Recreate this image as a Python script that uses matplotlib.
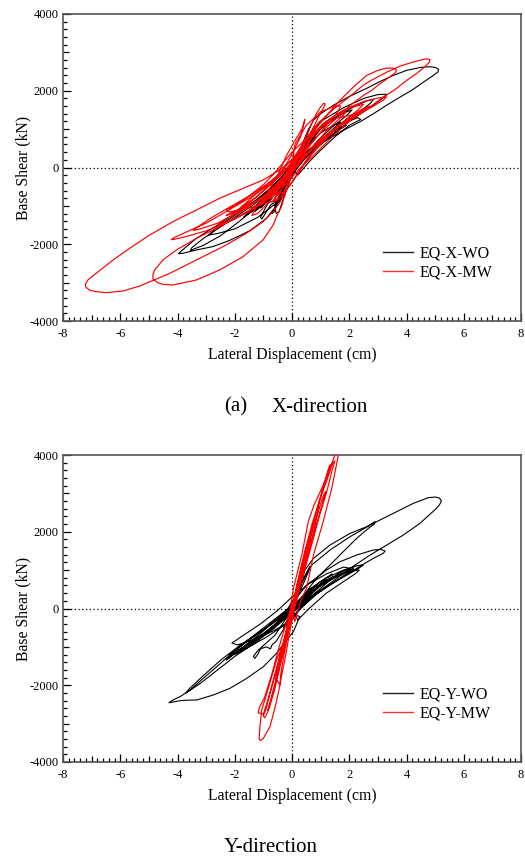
import matplotlib
matplotlib.use("Agg")
import matplotlib.pyplot as plt
from matplotlib.lines import Line2D
from matplotlib.ticker import MultipleLocator, FuncFormatter

plt.rcParams['font.family'] = ['Liberation Serif', 'DejaVu Serif']
plt.rcParams['axes.unicode_minus'] = False

# ---------------- data (displacement cm, base shear kN) ----------------
x_wo_path = [
    (0, 0), (0.25, 300), (0.5, 620), (0.7, 850), (0.55, 700), (0.2, 250), (-0.2, -250), (-0.45, -600),
    (-0.6, -800), (-0.45, -650), (-0.1, -200), (0.3, 300), (0.6, 700), (0.9, 1000), (1.1, 1150), (0.95, 980),
    (0.5, 500), (0.0, -50), (-0.5, -550), (-0.9, -900), (-1.1, -1050), (-0.95, -950), (-0.7, -800),
    (-0.85, -950), (-1.0, -1150), (-1.1, -1300), (-1.05, -1340), (-0.95, -1220), (-0.75, -980), (-0.55, -880),
    (-0.6, -1050), (-0.55, -1200), (-0.45, -1150), (-0.3, -800), (-0.05, -300), (0.3, 250),
    (0.6, 650), (1.0, 1000), (1.6, 1350), (2.2, 1600), (2.6, 1730), (2.85, 1780), (2.75, 1680), (2.3, 1420),
    (1.8, 1150), (1.2, 800), (0.6, 400), (0.1, -100), (-0.3, -550),
    (-0.55, -1000), (-0.9, -1330), (-1.48, -1650), (-2.18, -1900), (-2.76, -2060), (-3.34, -2150),
    (-3.81, -2235), (-3.97, -2245), (-3.9, -2200), (-3.69, -2063), (-3.34, -1846), (-2.88, -1629),
    (-2.41, -1411), (-1.83, -1108), (-1.25, -847), (-0.7, -500), (-0.25, -150), (0.1, 200),
    (0.4, 550), (0.65, 880), (0.5, 750), (0.1, 250), (-0.4, -350),
    (-1.2, -1000), (-1.8, -1380), (-2.5, -1780), (-3.1, -2030), (-3.55, -2160), (-3.5, -2090), (-3.1, -1850),
    (-2.6, -1600), (-2.0, -1300), (-1.4, -1000), (-0.8, -650), (-0.3, -250), (0.2, 250),
    (0.45, 750), (0.74, 1226), (1.0, 1400), (1.44, 1620), (2.0, 1850), (2.6, 2060), (3.1, 2250), (3.54, 2400),
    (4.0, 2530), (4.5, 2610), (4.8, 2625), (5.0, 2610), (5.12, 2560), (5.1, 2490), (4.9, 2380), (4.59, 2223),
    (4.2, 2020), (3.77, 1833), (3.3, 1620), (2.84, 1400), (2.4, 1200), (1.9, 1010), (1.4, 800), (0.97, 620),
    (0.6, 380), (0.27, 186), (0.05, -80), (-0.08, -334), (-0.25, -650), (-0.43, -854), (-0.6, -1000),
    (-0.5, -850), (-0.2, -350),
    (0.2, 250), (0.5, 750), (1.0, 1200), (1.8, 1560), (2.5, 1800), (3.0, 1900), (3.3, 1910), (3.2, 1820),
    (2.7, 1550), (2.0, 1200), (1.3, 800), (0.6, 350), (0.0, -150),
    (-0.5, -900), (-1.2, -1300), (-2.0, -1600), (-2.6, -1720), (-2.9, -1760), (-2.7, -1600), (-2.2, -1350),
    (-1.5, -1000), (-0.8, -600), (-0.2, -100),
    (0.3, 450), (0.8, 900), (1.4, 1250), (1.9, 1450), (2.1, 1500), (1.9, 1350), (1.4, 1050), (0.9, 700),
    (0.4, 280), (0.0, -150), (-0.5, -600), (-1.0, -950), (-1.5, -1200), (-1.7, -1300), (-1.5, -1150),
    (-1.0, -800), (-0.5, -400), (0.0, 50), (0.5, 550), (1.0, 900), (1.5, 1120), (1.7, 1180), (1.5, 1050),
    (1.0, 700), (0.5, 300), (0.0, -100), (-0.4, -450), (-0.8, -750), (-0.6, -620), (-0.2, -200), (0.2, 200),
    (0.0, 0), (0.2, -200), (0.6, 150), (1.0, 450), (1.5, 800), (2.0, 1100), (2.4, 1250), (2.3, 1300),
    (1.8, 1150), (1.2, 850), (0.6, 450), (0.1, 0), (-0.4, -500), (-0.9, -900), (-1.3, -1150), (-1.25, -1050),
    (-0.8, -700), (-0.3, -250), (0.2, 350), (0.5, 800), (0.62, 1050), (0.55, 950), (0.3, 500), (0.0, 0),
    (-0.2, -600), (-0.5, -950), (-0.7, -1200), (-0.62, -1150), (-0.4, -700), (-0.1, -200), (0.4, 200),
    (1.0, 600), (1.6, 950), (1.9, 1100), (1.6, 1020), (1.0, 700), (0.4, 350), (0.0, 0),
]

x_mw_path = [
    (0, 0), (0.3, 400), (0.55, 750), (0.45, 650), (0.1, 150), (-0.3, -350), (-0.6, -700), (-0.5, -600),
    (-0.1, -100), (0.3, 450), (0.6, 850), (0.8, 1050), (0.6, 850), (0.2, 300), (-0.4, -400), (-0.9, -800),
    (-1.3, -1050), (-1.0, -850), (-0.5, -450), (0.0, 50),
    (0.3, 500), (0.6, 1000), (0.85, 1400), (1.0, 1580), (1.1, 1670), (1.16, 1660), (1.12, 1580), (0.95, 1350),
    (0.75, 1050), (0.5, 700), (0.2, 250), (-0.2, -250),
    (-0.6, -600), (-1.0, -900), (-2.0, -1350), (-3.0, -1650), (-3.7, -1800), (-4.1, -1870), (-4.22, -1880),
    (-4.1, -1820), (-3.6, -1650), (-3.0, -1450), (-2.3, -1150), (-1.5, -800), (-0.8, -450), (-0.2, -50),
    (0.5, 700), (1.2, 1200), (1.8, 1500), (2.5, 1720), (3.0, 1810), (3.3, 1840), (3.2, 1760), (2.8, 1580),
    (2.2, 1330), (1.5, 1000), (0.8, 600), (0.2, 100), (-0.3, -350),
    (-0.8, -800), (-1.5, -1150), (-2.2, -1400), (-2.6, -1500), (-2.4, -1380), (-1.8, -1100), (-1.2, -750),
    (-0.6, -350), (0.0, 100), (0.4, 500), (0.2, 300), (-0.3, -250), (-0.9, -700), (-1.6, -1050),
    (-2.0, -1200), (-1.8, -1050), (-1.2, -650), (-0.5, -200), (0.1, 300),
    (0.5, 750), (0.9, 1150), (1.5, 1550), (2.02, 1850), (2.5, 2150), (2.84, 2300), (3.3, 2480), (3.77, 2640),
    (4.2, 2740), (4.5, 2800), (4.7, 2830), (4.82, 2815), (4.8, 2740), (4.6, 2600), (4.35, 2450), (4.0, 2266),
    (3.6, 2030), (3.19, 1833), (2.8, 1620), (2.37, 1443), (1.9, 1200), (1.44, 966), (1.0, 700), (0.6, 420),
    (0.3, 150), (0.0, -150),
    (-0.2, -520), (-0.4, -880), (-0.66, -1151), (-1.01, -1411), (-1.6, -1716), (-2.41, -2063), (-3.34, -2410),
    (-4.27, -2758), (-4.91, -2958), (-5.32, -3088), (-5.9, -3218), (-6.49, -3262), (-6.84, -3236),
    (-7.05, -3205), (-7.2, -3120), (-7.22, -3050), (-7.13, -2931), (-6.95, -2820), (-6.84, -2758),
    (-6.25, -2410), (-5.67, -2106), (-4.97, -1759), (-4.16, -1411), (-3.34, -1108), (-2.53, -803),
    (-1.71, -543), (-1.01, -326), (-0.43, -65), (0.15, 282), (0.5, 700),
    (1.2, 1350), (1.67, 1746), (2.14, 2093), (2.6, 2396), (3.0, 2530), (3.3, 2590), (3.55, 2590),
    (3.65, 2540), (3.6, 2460), (3.3, 2300), (3.07, 2180), (2.8, 2020), (2.49, 1876), (2.0, 1600), (1.5, 1250),
    (1.0, 900), (0.5, 500), (0.1, 80),
    (-0.2, -600), (-0.37, -1021), (-0.49, -1195), (-0.66, -1498), (-1.01, -1889), (-1.71, -2324),
    (-2.53, -2671), (-3.34, -2931), (-4.16, -3062), (-4.51, -3044), (-4.7, -3000), (-4.86, -2900),
    (-4.86, -2800), (-4.8, -2671), (-4.51, -2410), (-4.04, -2150), (-3.34, -1846), (-2.41, -1498),
    (-1.48, -1108), (-0.66, -673), (-0.08, -239), (0.3, 200),
    (0.7, 800), (1.3, 1250), (2.0, 1550), (2.5, 1650), (2.3, 1500), (1.8, 1200), (1.2, 850), (0.6, 400),
    (0.0, -100), (-0.4, -500), (-0.3, -400), (0.1, 100), (0.6, 700), (1.1, 1150), (1.6, 1400), (1.9, 1450),
    (1.7, 1300), (1.2, 950), (0.7, 500), (0.2, 50), (-0.3, -400), (-0.8, -800), (-1.2, -1000), (-1.0, -850),
    (-0.4, -300), (0.0, 0),
    (0.1, 600), (0.5, 1100), (1.0, 1450), (1.5, 1600), (1.7, 1600), (1.6, 1450), (1.2, 1100), (0.7, 650),
    (0.2, 100), (-0.3, -400), (-0.8, -900), (-1.2, -1200), (-1.4, -1250), (-1.3, -1100), (-0.9, -700),
    (-0.5, -200), (-0.2, 300), (0.1, 700), (0.35, 1000), (0.45, 1250), (0.42, 1150), (0.3, 800), (0.0, 350),
    (-0.3, -50), (-0.7, -400), (-1.3, -800), (-1.9, -1100), (-2.3, -1250), (-2.1, -1200), (-1.6, -1000),
    (-1.0, -800), (-0.6, -700), (-0.3, -650), (0.0, -400), (0.5, 200), (1.0, 650), (1.6, 1050), (2.0, 1250),
    (2.2, 1300), (2.1, 1370), (1.6, 1300), (1.0, 1050), (0.5, 750), (0.0, 400), (-0.5, -50), (-1.0, -450),
    (-1.6, -800), (-2.0, -1000), (-2.3, -1100), (-2.2, -1160), (-1.6, -1080), (-1.0, -950), (-0.5, -850),
    (-0.2, -600), (0.2, -150), (0.7, 350), (1.3, 850), (1.9, 1250), (2.4, 1500), (2.7, 1600), (2.6, 1520),
    (2.0, 1200), (1.4, 800), (0.8, 350), (0.3, 0), (-0.3, -500), (-0.7, -900), (-0.5, -800), (-0.2, -300),
    (-1.0, -750), (-1.8, -1150), (-2.6, -1450), (-3.2, -1600), (-3.45, -1640), (-3.3, -1550), (-2.8, -1300),
    (-2.1, -1000), (-1.4, -700), (-0.7, -350), (0.0, 100), (0.0, 0),
]

y_wo_path = [
    (0, 0), (0.3, 250), (0.6, 450), (0.8, 580), (0.6, 450), (0.2, 100), (-0.3, -250), (-0.7, -500),
    (-0.9, -620), (-0.7, -520), (-0.2, -150), (0.4, 350), (1.0, 700), (1.4, 900), (1.2, 780), (0.7, 420),
    (0.1, 0), (-0.5, -380), (-1.1, -750), (-1.5, -950), (-1.3, -850), (-0.8, -550), (-0.3, -200),
    (0.1, 300), (0.4, 750), (0.62, 1094), (0.6, 1000), (0.4, 650), (0.1, 200), (-0.2, -250),
    (-0.6, -700), (-0.9, -900), (-1.2, -1100), (-1.35, -1250), (-1.3, -1300), (-1.2, -1200), (-1.1, -1050),
    (-0.9, -1000), (-0.75, -1050), (-0.7, -950), (-0.55, -850), (-0.3, -550), (0.0, -150), (0.27, -208),
    (0.05, -604), (-0.19, -821), (-0.54, -1168), (-1.0, -1516), (-1.58, -1820), (-2.17, -2081),
    (-2.75, -2254), (-3.33, -2384), (-3.68, -2390), (-3.9, -2400), (-4.1, -2430), (-4.3, -2455),
    (-4.15, -2380), (-3.91, -2298), (-3.56, -2124), (-3.1, -1820), (-2.63, -1516), (-2.17, -1211),
    (-1.58, -864), (-1.0, -560), (-0.42, -256), (0.05, 48), (0.2, 450), (0.45, 850), (0.69, 1134),
    (1.33, 1524), (2.03, 1872), (2.84, 2219), (3.54, 2480), (4.24, 2740), (4.76, 2888), (5.0, 2905),
    (5.15, 2880), (5.22, 2800), (5.15, 2700), (5.05, 2610), (4.47, 2219), (3.89, 1915), (3.31, 1655),
    (2.73, 1394), (2.03, 1047), (1.33, 656), (0.75, 352), (0.3, 0), (0.0, -300), (-0.3, -500), (-0.1, -200),
    (0.2, 300), (0.45, 1003), (0.75, 1307), (1.33, 1655), (2.03, 1959), (2.61, 2132), (2.9, 2262),
    (2.88, 2200), (2.67, 2089), (2.26, 1828), (1.79, 1481), (1.33, 1134), (0.86, 786), (0.4, 350),
    (0.0, -100), (-0.6, -500), (-1.3, -900), (-2.0, -1250), (-2.6, -1600), (-3.2, -1950), (-3.7, -2200),
    (-3.6, -2100), (-3.1, -1750), (-2.5, -1350), (-1.8, -950), (-1.0, -550), (-0.3, -150),
    (0.5, 600), (1.2, 1000), (1.68, 1220), (2.26, 1394), (2.84, 1524), (3.1, 1540), (3.25, 1500),
    (3.19, 1438), (2.84, 1307), (2.26, 1047), (1.6, 750), (0.9, 400), (0.3, 0),
    (0.6, 500), (1.2, 800), (1.8, 1000), (2.3, 1120), (2.5, 1140), (2.3, 1030), (1.8, 820), (1.2, 560),
    (0.6, 250), (0.0, -100), (-0.6, -450), (-1.2, -800), (-1.8, -1050), (-2.2, -1300), (-2.3, -1340),
    (-2.1, -1200), (-1.6, -950), (-1.0, -650), (-0.4, -300), (0.2, 100), (0.8, 500), (1.4, 800),
    (2.0, 1000), (2.15, 1050), (1.9, 900), (1.3, 600), (0.7, 300), (0.1, -50), (-0.5, -400), (-1.0, -700),
    (-1.6, -1000), (-1.9, -1150), (-1.7, -1000), (-1.1, -650), (-0.5, -250), (0.2, 150), (0.8, 550),
    (1.3, 780), (1.45, 840), (1.3, 720), (0.8, 400), (0.2, 50), (0.0, 0),
    (0.2, -300), (0.6, 0), (1.2, 400), (1.8, 700), (2.2, 900), (2.35, 1000), (2.1, 1000), (1.5, 800),
    (0.9, 550), (0.3, 250), (-0.3, -100), (-0.9, -450), (-1.5, -800), (-2.0, -1100), (-2.2, -1200),
    (-2.0, -1200), (-1.5, -1000), (-0.9, -750), (-0.4, -500), (0.0, -250), (0.5, 250), (1.0, 600),
    (1.6, 900), (2.0, 1050), (1.8, 1080), (1.2, 900), (0.6, 650), (0.0, 300), (-0.5, -50), (-1.1, -400),
    (-1.7, -700), (-2.1, -900), (-1.9, -950), (-1.3, -800), (-0.7, -600), (-0.2, -400), (0.0, 0),
]

y_mw_path = [
    (0, 0), (0.1, -340), (0.3, 200), (0.51, 526), (0.75, 1394), (1.09, 2263), (1.24, 2697), (1.39, 3131),
    (1.62, 4000), (1.75, 4350), (1.6, 4150), (1.5, 4000), (1.25, 3500), (1.04, 3131), (0.77, 2697),
    (0.57, 2263), (0.34, 1394), (0.05, 526), (-0.13, -343), (-0.3, -900), (-0.54, -1342), (-0.88, -2210),
    (-1.06, -2645), (-1.12, -3079), (-1.15, -3400), (-1.1, -3440), (-1.0, -3383), (-0.77, -3079),
    (-0.6, -2600), (-0.48, -2210), (-0.35, -1700), (-0.25, -1342), (-0.1, -700), (0.05, -100),
    (0.4, 900), (0.7, 1700), (0.95, 2400), (1.2, 3000), (1.4, 3600), (1.5, 3850), (1.42, 3780), (1.2, 3300),
    (0.95, 2800), (0.7, 2200), (0.45, 1500), (0.2, 700), (0.0, 50), (-0.2, -600), (-0.45, -1300),
    (-0.7, -2000), (-0.9, -2600), (-1.0, -2800), (-0.95, -2850), (-0.85, -2700), (-0.65, -2150),
    (-0.45, -1550), (-0.25, -900), (0.0, -100),
    (0.3, 650), (0.6, 1500), (0.9, 2300), (1.1, 2850), (1.18, 3050), (1.1, 2950), (0.85, 2400), (0.6, 1750),
    (0.35, 1000), (0.1, 300), (-0.15, -500), (-0.4, -1200), (-0.65, -1900), (-0.85, -2400), (-1.0, -2750),
    (-1.18, -2720), (-1.15, -2600), (-0.95, -2300), (-0.7, -1700), (-0.45, -1000), (-0.15, -250),
    (0.2, 450), (0.5, 1300), (0.8, 2150), (0.95, 2650), (0.9, 2600), (0.7, 2100), (0.45, 1450), (0.2, 700),
    (0.0, 0), (-0.25, -750), (-0.45, -1400), (-0.6, -1800), (-0.5, -1900), (-0.42, -2000), (-0.4, -1750),
    (-0.3, -1300), (-0.1, -500), (0.2, 400), (0.45, 1200), (0.65, 1800), (0.6, 1750), (0.4, 1150),
    (0.15, 350), (-0.1, -400), (-0.35, -1100), (-0.55, -1750), (-0.5, -1600), (-0.3, -1000), (0.0, 0),
    (0.25, 700), (0.55, 1600), (0.85, 2500), (1.1, 3200), (1.3, 3700), (1.35, 3750), (1.25, 3550),
    (1.0, 2900), (0.75, 2200), (0.5, 1400), (0.25, 600), (0.0, -200), (-0.25, -950), (-0.5, -1700),
    (-0.75, -2400), (-0.85, -2650), (-0.8, -2600), (-0.6, -2100), (-0.4, -1450), (-0.2, -800), (0.0, 0),
]

x_limits = (-8, 8)
y_limits = (-4000, 4000)
x_label = "Lateral Displacement (cm)"
y_label = "Base Shear (kN)"
top_names = ["EQ-X-WO", "EQ-X-MW"]
bottom_names = ["EQ-Y-WO", "EQ-Y-MW"]

# ---------------- figure ----------------
fig = plt.figure(figsize=(5.25, 8.56), dpi=100)
ax1 = fig.add_axes([63 / 525, 1 - 321 / 856, 458 / 525, 307 / 856])
ax2 = fig.add_axes([63 / 525, 1 - 762 / 856, 458 / 525, 307 / 856])


def fmt_x(v, pos):
    iv = int(round(v))
    return str(iv) if iv % 2 == 0 else ""


def fmt_y(v, pos):
    iv = int(round(v))
    return str(iv) if iv % 2000 == 0 else ""


def style(ax, names, wo_path, mw_path):
    wx, wy = zip(*wo_path)
    mx, my = zip(*mw_path)
    ax.plot(wx, wy, color='black', lw=0.8, zorder=3, solid_joinstyle='round')
    ax.plot(mx, my, color='#ff0000', lw=0.85, zorder=4, solid_joinstyle='round')
    ax.axhline(0, color='black', lw=0.9, ls=(0, (1, 2)), zorder=2)
    ax.axvline(0, color='black', lw=0.9, ls=(0, (1, 2)), zorder=2)
    ax.set_xlim(*x_limits)
    ax.set_ylim(*y_limits)
    ax.xaxis.set_major_locator(MultipleLocator(1))
    ax.xaxis.set_minor_locator(MultipleLocator(0.2))
    ax.yaxis.set_major_locator(MultipleLocator(1000))
    ax.yaxis.set_minor_locator(MultipleLocator(200))
    ax.xaxis.set_major_formatter(FuncFormatter(fmt_x))
    ax.yaxis.set_major_formatter(FuncFormatter(fmt_y))
    ax.tick_params(which='both', direction='in', top=False, right=False, color='black', width=0.9)
    ax.tick_params(which='major', length=4.3, labelsize=9)
    ax.tick_params(axis='x', which='major', pad=5)
    ax.tick_params(axis='y', which='major', pad=3)
    ax.tick_params(which='minor', length=2.7)
    locs = ax.xaxis.get_majorticklocs()
    for t, v in zip(ax.xaxis.get_major_ticks(len(locs)), locs):
        if int(round(v)) % 2 == 0:
            t.tick1line.set_markersize(6.0)
    locs = ax.yaxis.get_majorticklocs()
    for t, v in zip(ax.yaxis.get_major_ticks(len(locs)), locs):
        if int(round(v)) % 2000 == 0:
            t.tick1line.set_markersize(6.0)
    for s in ax.spines.values():
        s.set_color('#555555')
        s.set_linewidth(1.2)
    ax.set_xlabel(x_label, fontsize=11.3, labelpad=5)
    ax.set_ylabel(y_label, fontsize=11.3, labelpad=-1)
    handles = [Line2D([], [], color='#222222', lw=1.0), Line2D([], [], color='#ff3030', lw=1.0)]
    ax.legend(handles, names, loc='center left', bbox_to_anchor=((382.7 - 63) / 458, 0.188),
              frameon=False, fontsize=11.5, handlelength=1.9, handletextpad=0.4,
              borderpad=0, borderaxespad=0, labelspacing=0.2)


style(ax1, top_names, x_wo_path, x_mw_path)
style(ax2, bottom_names, y_wo_path, y_mw_path)

fig.text(224 / 525, 1 - 407 / 856, "(a)", fontsize=15, ha='left', va='center')
fig.text(272 / 525, 1 - 407 / 856, "X-direction", fontsize=15, ha='left', va='center')
fig.text(224 / 525, 1 - 847 / 856, "Y-direction", fontsize=15, ha='left', va='center')

fig.savefig("out.png", dpi=100)
